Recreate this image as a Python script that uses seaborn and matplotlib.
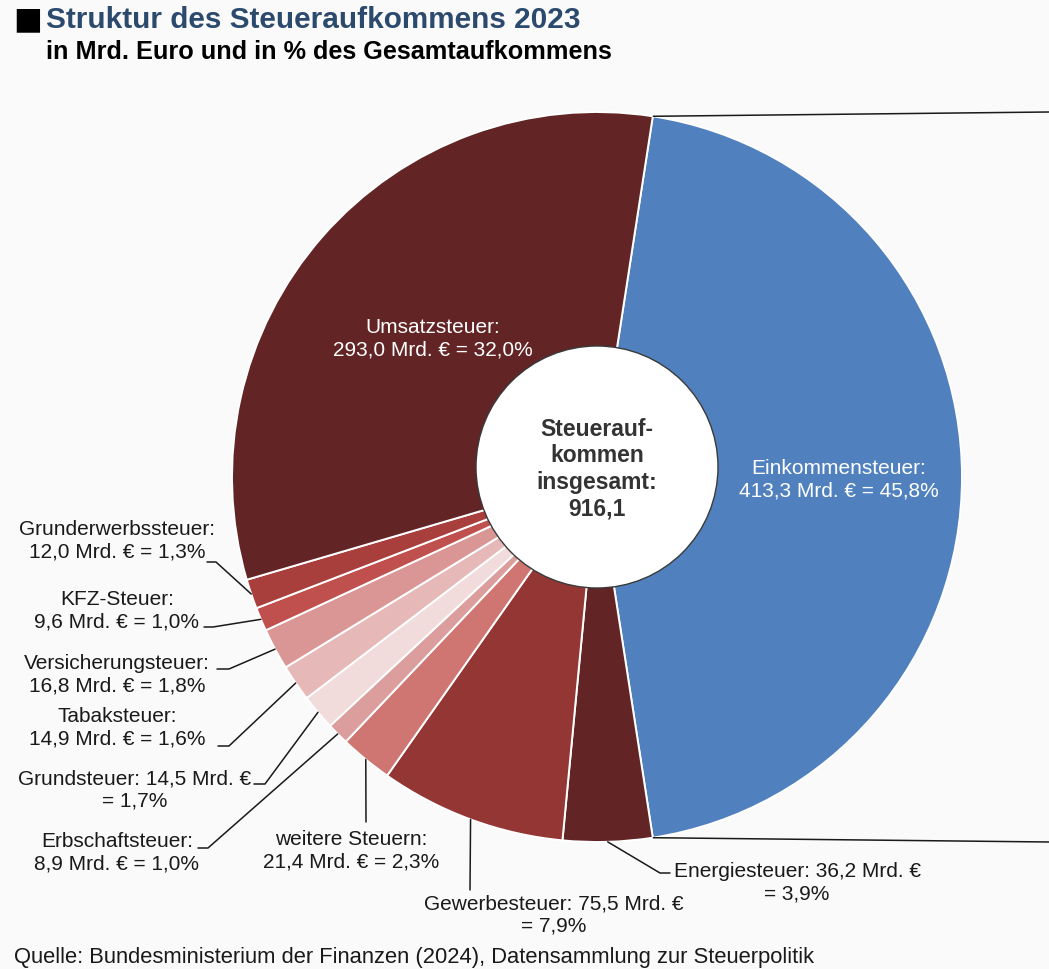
import numpy as np
import matplotlib
matplotlib.use("Agg")
import matplotlib.pyplot as plt
from matplotlib.patches import Circle
import seaborn as sns

# ---------------- data ----------------
categories = ["Einkommensteuer", "Energiesteuer", "Gewerbesteuer", "weitere Steuern",
              "Erbschaftsteuer", "Grundsteuer", "Tabaksteuer", "Versicherungsteuer",
              "KFZ-Steuer", "Grunderwerbssteuer", "Umsatzsteuer"]
values = [413.3, 36.2, 75.5, 21.4, 8.9, 14.5, 14.9, 16.8, 9.6, 12.0, 293.0]
labels = ["Einkommensteuer:\n413,3 Mrd. € = 45,8%",
          "Energiesteuer: 36,2 Mrd. €\n= 3,9%",
          "Gewerbesteuer: 75,5 Mrd. €\n= 7,9%",
          "weitere Steuern:\n21,4 Mrd. € = 2,3%",
          "Erbschaftsteuer:\n8,9 Mrd. € = 1,0%",
          "Grundsteuer: 14,5 Mrd. €\n= 1,7%",
          "Tabaksteuer:\n14,9 Mrd. € = 1,6%",
          "Versicherungsteuer:\n16,8 Mrd. € = 1,8%",
          "KFZ-Steuer:\n9,6 Mrd. € = 1,0%",
          "Grunderwerbssteuer:\n12,0 Mrd. € = 1,3%",
          "Umsatzsteuer:\n293,0 Mrd. € = 32,0%"]
colors = ["#5081be", "#622424", "#943634", "#cf7672", "#dc9e9d", "#f2dcdb",
          "#e6b9b8", "#d99694", "#c0504d", "#a83f3c", "#622424"]
total_label = "Steuerauf-\nkommen\ninsgesamt:\n916,1"
title = "Struktur des Steueraufkommens 2023"
subtitle = "in Mrd. Euro und in % des Gesamtaufkommens"
source = "Quelle: Bundesministerium der Finanzen (2024), Datensammlung zur Steuerpolitik"

# ---------------- layout (pixel coords, y from top) ----------------
W, H = 1049, 969
CX, CY, R = 597, 477, 365
HOLE = (597, 467, 121)
label_layout = {
    "Einkommensteuer": ((839, 480), None),
    "Umsatzsteuer": ((433, 339), None),
    "Energiesteuer": ((797, 883), [(660, 873), (670, 873)]),
    "Gewerbesteuer": ((554, 915), [(470, 890)]),
    "weitere Steuern": ((351, 851), [(366, 822)]),
    "Erbschaftsteuer": ((117, 853), [(208, 848), (198, 848)]),
    "Grundsteuer": ((135, 790), [(265, 784), (254, 784)]),
    "Tabaksteuer": ((117, 728), [(229, 746), (218, 746)]),
    "Versicherungsteuer": ((117, 675), [(229, 669), (217, 669)]),
    "KFZ-Steuer": ((117, 611), [(213, 627), (204, 627)]),
    "Grunderwerbssteuer": ((117, 541), [(216, 562), (207, 562)]),
}


def Y(y):
    return H - y


sns.set_theme(style="white")
plt.rcParams["font.family"] = ["Liberation Sans", "DejaVu Sans"]
BG = "#fafafa"

fig = plt.figure(figsize=(W / 100, H / 100), dpi=100, facecolor=BG)
ax = fig.add_axes([0, 0, 1, 1])
ax.set_facecolor(BG)

total = sum(values)
start = 360.0 * values[0] / total / 2.0
wedges, _ = ax.pie(values, colors=colors, startangle=start, counterclock=False,
                   center=(CX, Y(CY)), radius=R,
                   wedgeprops=dict(edgecolor="white", linewidth=1.4))
ax.set_xlim(0, W)
ax.set_ylim(0, H)
ax.set_aspect("equal")
ax.axis("off")

# hole
ax.add_patch(Circle((HOLE[0], Y(HOLE[1])), HOLE[2], facecolor="white",
                    edgecolor="#3a3a3a", linewidth=1.0, zorder=5))
ax.text(HOLE[0], Y(HOLE[1] + 2), total_label, ha="center", va="center",
        fontsize=16.5, fontweight="bold", color="#333333", linespacing=1.2, zorder=6)

# connector lines of Einkommensteuer wedge to the right edge
w0 = wedges[0]
for ang, yend in ((w0.theta2, 112), (w0.theta1, 842)):
    px = CX + R * np.cos(np.radians(ang))
    py = Y(CY) + R * np.sin(np.radians(ang))
    ax.plot([px, W], [py, Y(yend)], color="#1a1a1a", lw=1.1, zorder=3,
            solid_capstyle="butt")

# labels
for wdg, cat, lab in zip(wedges, categories, labels):
    (tx, ty), elbows = label_layout[cat]
    if elbows is None:
        ax.text(tx, Y(ty), lab, ha="center", va="center", fontsize=15,
                color="white", linespacing=1.25, zorder=6)
        continue
    mid = np.radians((wdg.theta1 + wdg.theta2) / 2.0)
    ax_ = CX + R * np.cos(mid)
    ay_ = Y(CY) + R * np.sin(mid)
    xs = [ax_] + [e[0] for e in elbows]
    ys = [ay_] + [Y(e[1]) for e in elbows]
    ax.plot(xs, ys, color="#1a1a1a", lw=1.1, zorder=3)
    ax.text(tx, Y(ty), lab, ha="center", va="center", fontsize=15,
            color="#1a1a1a", linespacing=1.25, zorder=6)

# title / subtitle / source
fig.text(13 / W, Y(20) / H, "■", fontsize=22, color="black", va="center", ha="left",
         family=["DejaVu Sans"])
fig.text(46 / W, Y(20) / H, title, fontsize=21.4, fontweight="bold", color="#2c4a6e",
         va="center", ha="left")
fig.text(46 / W, Y(52) / H, subtitle, fontsize=18.2, fontweight="bold", color="black",
         va="center", ha="left")
fig.text(14 / W, Y(957) / H, source, fontsize=15.8, color="#1a1a1a", va="center", ha="left")

fig.savefig("out.png", dpi=100, facecolor=BG)
